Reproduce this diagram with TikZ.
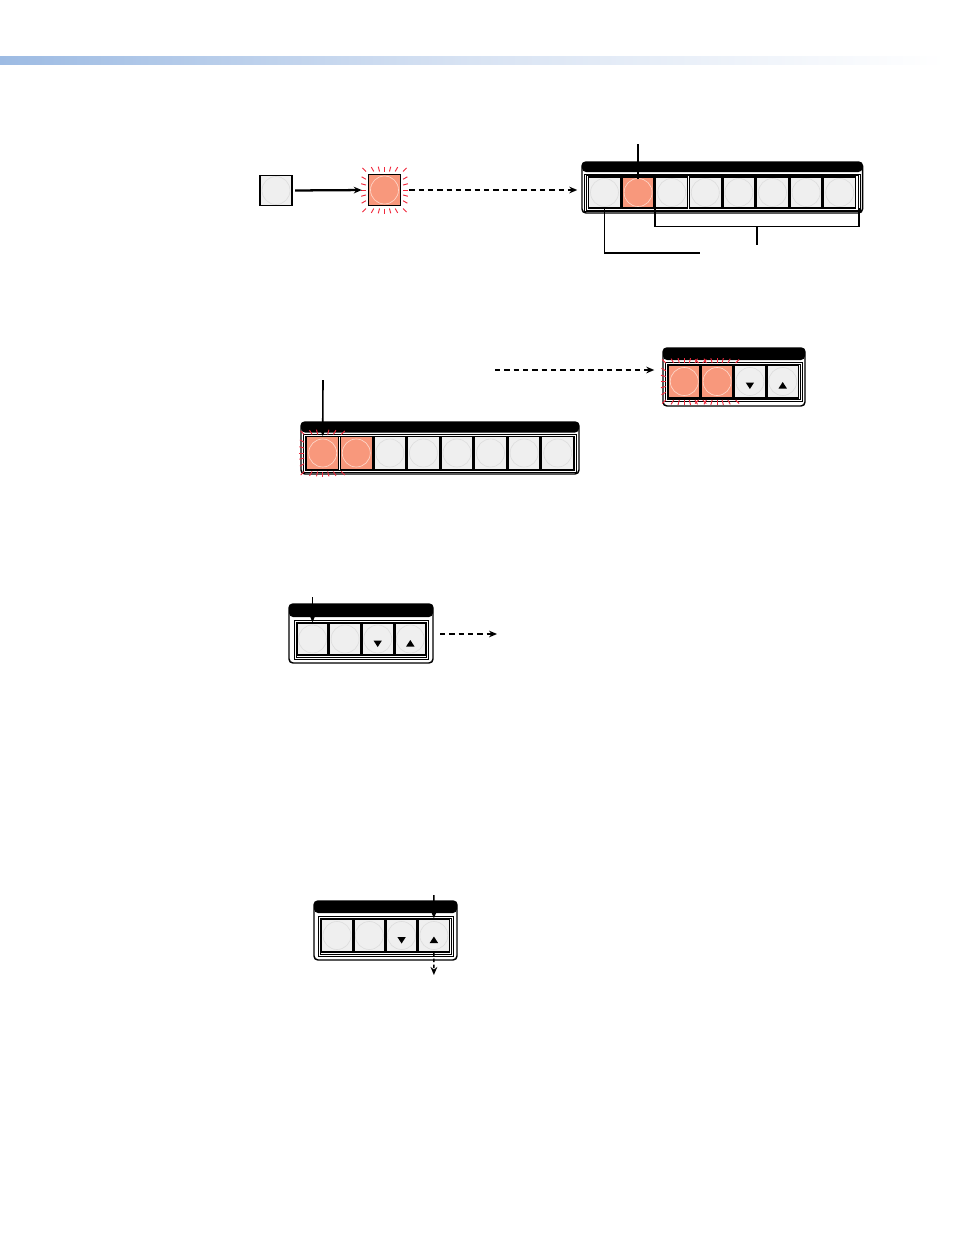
\documentclass[tikz,border=0pt]{standalone}
\usetikzlibrary{calc,arrows.meta}
\definecolor{btngray}{RGB}{239,239,239}
\definecolor{circgray}{RGB}{222,222,222}
\definecolor{orangefill}{RGB}{248,152,124}
\definecolor{orangecirc}{RGB}{253,214,200}
\definecolor{rayred}{RGB}{240,40,60}
\definecolor{barleft}{RGB}{157,187,227}
\definecolor{barmid}{RGB}{216,227,243}
\tikzset{
  gbtn/.style={rectangle, draw=black, line width=1.1pt, fill=btngray, inner sep=0pt,
    minimum width=#1, minimum height=23.5pt,
    path picture={\draw[circgray, line width=0.5pt] (path picture bounding box.center) circle (10.5pt);}},
  gbtn/.default=24pt,
  obtn/.style={rectangle, draw=black, line width=1.1pt, fill=orangefill, inner sep=0pt,
    minimum width=#1, minimum height=23.5pt,
    path picture={\draw[orangecirc, line width=0.5pt] (path picture bounding box.center) circle (10.5pt);}},
  obtn/.default=24pt,
  panel/.style={rectangle, draw=black, line width=1.1pt, rounded corners=3pt, fill=white, inner sep=0pt,
    path picture={\fill[black] (path picture bounding box.north west) rectangle ([yshift=-#1]path picture bounding box.north east);}},
  raystyle/.style={rayred, line width=0.7pt},
  framel/.style={black, line width=0.5pt},
  callout/.style={black, line width=1.1pt},
  arr/.style={black, line width=1.2pt, -{Stealth[length=6pt,width=5pt]}},
  darr/.style={black, line width=1pt, dash pattern=on 4pt off 3pt, -{Stealth[length=6pt,width=5pt]}},
}
\newcommand\myrays[2]{%
  \foreach \a in {0,15,...,345}{%
    \pgfmathsetmacro\kk{1/max(abs(cos(\a)),abs(sin(\a)))}%
    \draw[raystyle] ($(#1,#2)+(\a:{18.5*\kk})$) -- ($(#1,#2)+(\a:{18.5*\kk+5})$);
  }%
}
\begin{document}
\begin{tikzpicture}[x=0.75pt,y=-0.75pt]
\useasboundingbox (0,0) rectangle (954,1235);
% header bar
\shade[left color=barleft, right color=white, middle color=barmid] (0,56) rectangle (945,64);

% ---------- Row 1 ----------
\node[gbtn, line width=0.8pt, minimum height=22.5pt] (gb) at (276,190.5) {};
\myrays{384.5}{190}
\node[obtn, minimum height=23.25pt] (ob) at (384.5,190) {};
\draw[arr, line width=1.7pt, shorten <=2pt, shorten >=4.5pt] (gb.east) -- (ob.west);

\node[panel=7.5pt, minimum width=210.4pt, minimum height=38.25pt] (P1) at (722.25,187.5) {};
\foreach \i/\s in {1/gbtn,2/obtn,3/gbtn,4/gbtn,5/gbtn,6/gbtn,7/gbtn,8/gbtn}{
  \node[\s=24pt, minimum height=23.25pt] (pa\i) at ({604.5+33.6*(\i-1)},192.5) {};
}
\draw[framel] ($(pa1.north west)+(-3,-2.3)$) rectangle ($(pa8.south east)+(3.5,2.8)$);
\draw[framel] ($(pa1.north west)+(-1,-0.8)$) rectangle ($(pa8.south east)+(1.5,1.2)$);
\draw[darr, shorten <=6pt, shorten >=3pt] (ob.east) -- (P1.west |- ob.east);

\coordinate (t1) at (637,145);
\draw[callout] (t1) -- (pa2.center |- t1) -- ($(pa2.north)+(0,3)$);
\coordinate (c2) at (700,253);
\draw[callout] (pa1.south) |- (c2);
\coordinate (brR) at (859,208);
\draw[callout] (pa3.south west) -- ($(pa3.south west)+(0,18)$) -| (brR);
\coordinate (brM) at (757,226);
\coordinate (brE) at (757,245);
\draw[callout] (brM) -- (brE);

% ---------- Row 2 ----------
\node[panel=7.9pt, minimum width=208.5pt, minimum height=39pt] (P2) at (440,448) {};
\draw[framel] (303.7,434.2) rectangle (576.8,472.2);
\draw[framel] (305.7,435.9) rectangle (574.8,470.5);
\myrays{322.7}{453}
\foreach \i/\s in {1/obtn,2/obtn,3/gbtn,4/gbtn,5/gbtn,6/gbtn,7/gbtn,8/gbtn}{
  \node[\s=24pt, minimum height=24.4pt] (pb\i) at ({322.7+33.57*(\i-1)},453) {};
}
\coordinate (s2) at (323,380);
\draw[arr] (s2) -- (pb1.north);

\node[panel=9pt, minimum width=106.5pt, minimum height=43.5pt] (P3) at (734,377) {};
\draw[framel] (665.3,362.8) rectangle (802.3,401.5);
\draw[framel] (667.3,364.3) rectangle (800.3,399.5);
\myrays{684.3}{381.5}
\myrays{717.1}{381.5}
\foreach \i/\s in {1/obtn,2/obtn,3/gbtn,4/gbtn}{
  \node[\s=23.5pt, minimum height=24.75pt] (pc\i) at ({684.3+32.8*(\i-1)},381.5) {};
}
\fill ($(pc3.center)+(-4.2,1)$) -- ++(8.4,0) -- ++(-4.2,6.5) -- cycle;
\fill ($(pc4.center)+(-4.2,7)$) -- ++(8.4,0) -- ++(-4.2,-6.5) -- cycle;
\coordinate (s3) at (495,370);
\draw[darr, shorten >=6pt] (s3) -- (P3.west |- s3);

% ---------- Row 3 ----------
\node[panel=9.75pt, minimum width=108pt, minimum height=44.25pt] (P4) at (361,633.5) {};
\draw[framel] (294,620.5) rectangle (428.5,659);
\draw[framel] (296,622) rectangle (426.5,657);
\foreach \i in {1,2,3,4}{
  \node[gbtn=23.3pt, minimum height=24pt] (pd\i) at ({312.5+32.6*(\i-1)},639) {};
}
\fill ($(pd3.center)+(-4.2,1.5)$) -- ++(8.4,0) -- ++(-4.2,6.5) -- cycle;
\fill ($(pd4.center)+(-4.2,7.5)$) -- ++(8.4,0) -- ++(-4.2,-6.5) -- cycle;
\coordinate (s4) at (312.5,597);
\draw[arr, line width=1pt] (s4) -- (pd1.north);
\coordinate (d4a) at (440,634);
\coordinate (d4b) at (497,634);
\draw[darr] (d4a) -- (d4b);

% ---------- Row 4 ----------
\node[panel=9pt, minimum width=107.25pt, minimum height=44.25pt] (P5) at (385.5,930.5) {};
\draw[framel] (318,916.5) rectangle (453.5,956);
\draw[framel] (320,918) rectangle (451.5,954);
\foreach \i in {1,2,3,4}{
  \node[gbtn=23.3pt, minimum height=24.75pt] (pe\i) at ({337+32.3*(\i-1)},935.5) {};
}
\fill ($(pe3.center)+(-4.2,1.5)$) -- ++(8.4,0) -- ++(-4.2,6.5) -- cycle;
\fill ($(pe4.center)+(-4.2,7.5)$) -- ++(8.4,0) -- ++(-4.2,-6.5) -- cycle;
\coordinate (s5) at (433.9,895);
\draw[arr, line width=1pt] (s5) -- (pe4.north);
\coordinate (e5) at (433.9,975);
\draw[darr, dash pattern=on 2.5pt off 2pt] (pe4.south) -- (e5);
\end{tikzpicture}
\end{document}
